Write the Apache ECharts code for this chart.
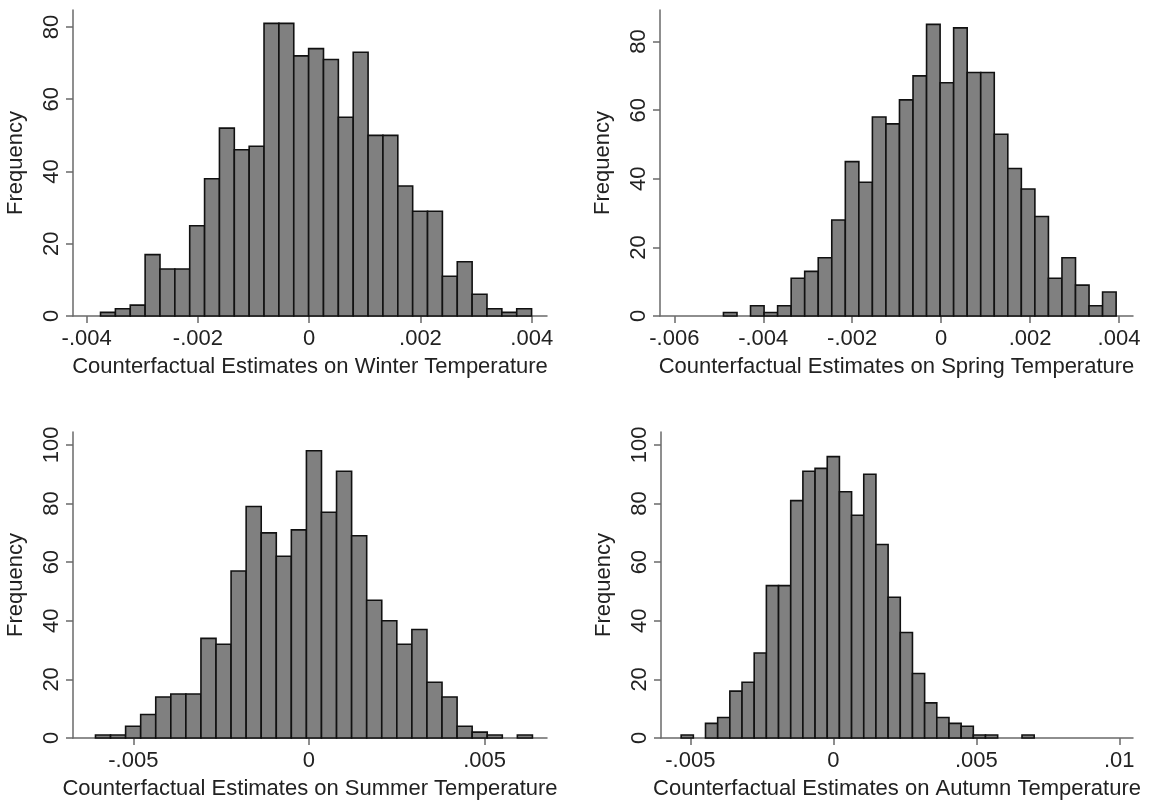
<!DOCTYPE html>
<html>
<head>
<meta charset="utf-8">
<title>Counterfactual Estimates</title>
<script src="https://cdn.jsdelivr.net/npm/echarts@6/dist/echarts.min.js"></script>
<style>
    html, body { margin: 0; padding: 0; background: #fff; }
    #hist { width: 1161px; height: 803px; }
</style>
</head>
<body>
<div id="hist"></div>
<script>
// bin counts (29 bins per panel)
var winterCounts = [1, 2, 3, 17, 13, 13, 25, 38, 52, 46, 47, 81, 81, 72, 74, 71, 55, 73, 50, 50, 36, 29, 29, 11, 15, 6, 2, 1, 2];
var springCounts = [1, 0, 3, 1, 3, 11, 13, 17, 28, 45, 39, 58, 56, 63, 70, 85, 68, 84, 71, 71, 53, 43, 37, 29, 11, 17, 9, 3, 7];
var summerCounts = [1, 1, 4, 8, 14, 15, 15, 34, 32, 57, 79, 70, 62, 71, 98, 77, 91, 69, 47, 40, 32, 37, 19, 14, 4, 2, 1, 0, 1];
var autumnCounts = [1, 0, 5, 7, 16, 19, 29, 52, 52, 81, 91, 92, 96, 84, 76, 90, 66, 48, 36, 22, 12, 7, 5, 4, 1, 1, 0, 0, 1];

// first bin edge and bin width
var winterBin = [-0.003751, 0.0002672];
var springBin = [-0.004895, 0.0003045];
var summerBin = [-0.006078, 0.000429];
var autumnBin = [-0.005321, 0.0004257];

// tick labels
var winterXTicks = [-0.004, -0.002, 0, 0.002, 0.004];
var springXTicks = [-0.006, -0.004, -0.002, 0, 0.002, 0.004];
var summerXTicks = [-0.005, 0, 0.005];
var autumnXTicks = [-0.005, 0, 0.005, 0.01];
var topYTicks = [0, 20, 40, 60, 80];
var bottomYTicks = [0, 20, 40, 60, 80, 100];

var xTitles = [
    'Counterfactual Estimates on Winter Temperature',
    'Counterfactual Estimates on Spring Temperature',
    'Counterfactual Estimates on Summer Temperature',
    'Counterfactual Estimates on Autumn Temperature'
];

var histMgr = {

    font: 'Liberation Sans, Arial, Helvetica, sans-serif',

    // stata style numbers: -.004, .002, 0
    fmt: function (v) {
        if (v === 0) return '0';
        return (v < 0 ? '-' : '') + String(Math.abs(v)).replace(/^0/, '');
    },

    binData: function (counts, bin) {
        var out = [];
        for (var i = 0; i < counts.length; i++) {
            var x0 = bin[0] + i * bin[1];
            out.push([x0, x0 + bin[1], counts[i]]);
        }
        return out;
    },

    renderBar: function (params, api) {
        var c = api.value(2);
        if (!c) return null;
        var p0 = api.coord([api.value(0), c]);
        var p1 = api.coord([api.value(1), 0]);
        return {
            type: 'rect',
            shape: { x: p0[0], y: p0[1], width: p1[0] - p0[0], height: p1[1] - p0[1] },
            style: { fill: '#808080', stroke: '#111', lineWidth: 1.6 }
        };
    },

    xAxis: function (idx, min, max, ticks) {
        var self = this;
        return {
            type: 'value', gridIndex: idx, min: min, max: max,
            name: xTitles[idx], nameLocation: 'middle', nameGap: 40,
            nameTextStyle: { color: '#222', fontSize: 22, fontFamily: self.font },
            axisLine: { onZero: false, lineStyle: { color: '#6a6a6a', width: 1.5 } },
            axisTick: { customValues: ticks, length: 7, lineStyle: { color: '#6a6a6a', width: 1.5 } },
            axisLabel: {
                customValues: ticks, color: '#222', fontSize: 22, fontFamily: self.font, margin: 12,
                formatter: function (v) { return self.fmt(v); }
            },
            splitLine: { show: false }
        };
    },

    yAxis: function (idx, max, ticks) {
        var self = this;
        return {
            type: 'value', gridIndex: idx, min: 0, max: max,
            name: 'Frequency', nameLocation: 'middle', nameGap: 46, nameRotate: 90,
            nameTextStyle: { color: '#222', fontSize: 22, fontFamily: self.font },
            axisLine: { show: true, onZero: false, lineStyle: { color: '#6a6a6a', width: 1.5 } },
            axisTick: { show: true, customValues: ticks, length: 7, lineStyle: { color: '#6a6a6a', width: 1.5 } },
            axisLabel: { customValues: ticks, rotate: 90, color: '#222', fontSize: 22, fontFamily: self.font, margin: 10 },
            splitLine: { show: false }
        };
    },

    init: function () {
        var myChart = echarts.init(document.getElementById('hist'));
        var self = this;

        var option = {
            backgroundColor: '#fff',
            animation: false,
            grid: [
                { left: 73, top: 10, width: 474, height: 306 },
                { left: 660, top: 10, width: 473, height: 306 },
                { left: 73, top: 432, width: 474, height: 306 },
                { left: 661, top: 432, width: 472, height: 306 }
            ],
            xAxis: [
                self.xAxis(0, -0.004246, 0.004275, winterXTicks),
                self.xAxis(1, -0.006322, 0.004315, springXTicks),
                self.xAxis(2, -0.006718, 0.006778, summerXTicks),
                self.xAxis(3, -0.006026, 0.01048, autumnXTicks)
            ],
            yAxis: [
                self.yAxis(0, 84.7, topYTicks),
                self.yAxis(1, 89.2, topYTicks),
                self.yAxis(2, 104.4, bottomYTicks),
                self.yAxis(3, 104.4, bottomYTicks)
            ],
            series: [
                { type: 'custom', xAxisIndex: 0, yAxisIndex: 0, renderItem: self.renderBar, encode: { x: [0, 1], y: 2 }, data: self.binData(winterCounts, winterBin) },
                { type: 'custom', xAxisIndex: 1, yAxisIndex: 1, renderItem: self.renderBar, encode: { x: [0, 1], y: 2 }, data: self.binData(springCounts, springBin) },
                { type: 'custom', xAxisIndex: 2, yAxisIndex: 2, renderItem: self.renderBar, encode: { x: [0, 1], y: 2 }, data: self.binData(summerCounts, summerBin) },
                { type: 'custom', xAxisIndex: 3, yAxisIndex: 3, renderItem: self.renderBar, encode: { x: [0, 1], y: 2 }, data: self.binData(autumnCounts, autumnBin) }
            ]
        };

        myChart.setOption(option);
    }
};

histMgr.init();
</script>
</body>
</html>
